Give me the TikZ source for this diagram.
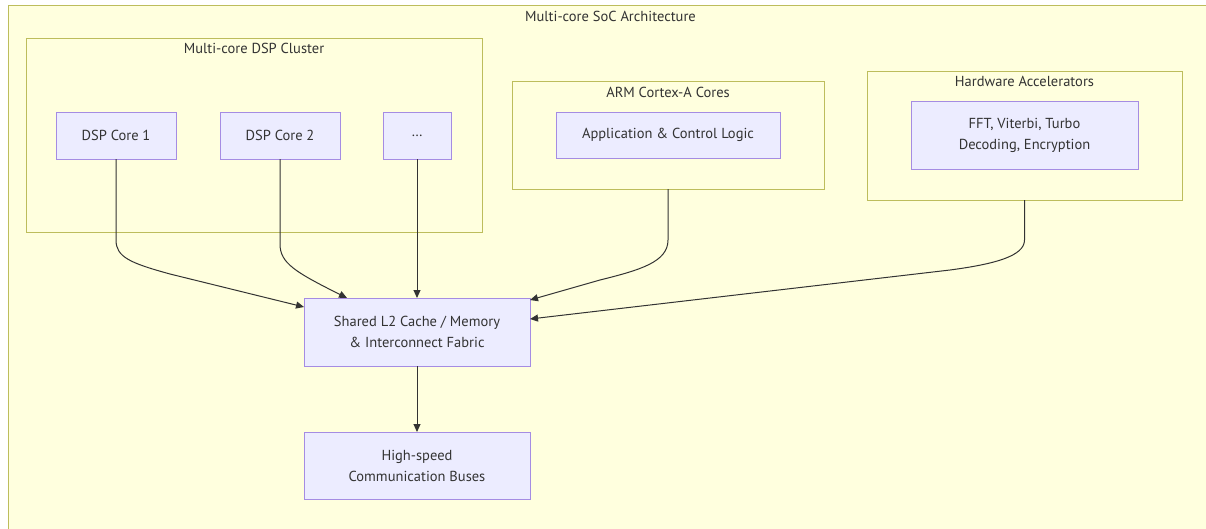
\documentclass[tikz,border=0pt]{standalone}
\usepackage{fontspec}
\setmainfont{PT Sans}
\usetikzlibrary{arrows.meta,calc}
\definecolor{clfill}{HTML}{FFFFDE}
\definecolor{clborder}{HTML}{BDBD5C}
\definecolor{ndfill}{HTML}{ECECFF}
\definecolor{ndborder}{HTML}{A58CE3}
\definecolor{txt}{HTML}{333333}
\tikzset{
  cluster/.style={draw=clborder, fill=clfill, line width=1pt, inner sep=0pt, outer sep=0pt},
  cltitle/.style={text=txt, font=\fontsize{14.5}{17}\selectfont, inner sep=0pt},
  box/.style={draw=ndborder, fill=ndfill, line width=1pt, text=txt, inner sep=0pt, outer sep=0pt,
    font=\fontsize{14.5}{21}\selectfont, align=center},
  arr/.style={draw=txt, line width=1pt, -{Triangle[length=8pt,width=7pt]}},
}
\begin{document}
\begin{tikzpicture}[x=1pt,y=-1pt]
\useasboundingbox (0,0) rectangle (1206,528);
\fill[white] (0,0) rectangle (1206,528);
\begin{scope}
\clip (0,0) rectangle (1206,528);
\node[cluster, minimum width=1205pt, minimum height=540pt] (soc) at (610.5,275) {};
\end{scope}
\node[cltitle] (tsoc) at (610.5,16.5) {Multi-core SoC Architecture};

% clusters
\node[cluster, minimum width=456pt, minimum height=194pt] (cdsp) at (254,135) {};
\node[cltitle] (tdsp) at (254,48.5) {Multi-core DSP Cluster};
\node[cluster, minimum width=312pt, minimum height=108pt] (carm) at (668,135) {};
\node[cltitle] (tarm) at (668,92.5) {ARM Cortex-A Cores};
\node[cluster, minimum width=315pt, minimum height=129pt] (chw) at (1024.5,135.5) {};
\node[cltitle] (thw) at (1024.5,81.5) {Hardware Accelerators};

% nodes
\node[box, minimum width=120pt, minimum height=47pt] (d1) at (116,135.5) {DSP Core 1};
\node[box, minimum width=120pt, minimum height=47pt] (d2) at (280,135.5) {DSP Core 2};
\node[box, minimum width=68pt, minimum height=47pt] (d3) at (417,135.5) {\dots};
\node[box, minimum width=224pt, minimum height=46pt] (arm) at (668,135) {Application \& Control Logic};
\node[box, minimum width=227pt, minimum height=68pt] (hw) at (1024.5,135) {FFT, Viterbi, Turbo\\Decoding, Encryption};
\node[box, minimum width=226pt, minimum height=68pt] (sh) at (417,332) {Shared L2 Cache / Memory\\\& Interconnect Fabric};
\node[box, minimum width=226pt, minimum height=67pt] (bus) at (417,465.5) {High-speed\\Communication Buses};

% connectors
\draw[arr] (d1.south) -- (116,240) .. controls (116,257) and (130,263) .. (170,274) -- ($(sh.north west)+(0,9)$);
\draw[arr] (d2.south) -- (280,244) .. controls (280,263) and (295,272) .. ($(sh.north west)+(43,0)$);
\draw[arr] (d3.south) -- (sh.north);
\draw[arr] (carm.south) -- (668,240) .. controls (668,262) and (640,270) .. (600,280) -- ($(sh.north east)+(0,2)$);
\draw[arr] (chw.south) -- (1024.5,240) .. controls (1024.5,256) and (995,264) .. (950,270) -- ($(sh.north east)+(0,21)$);
\draw[arr] (sh.south) -- (bus.north);
\end{tikzpicture}
\end{document}
